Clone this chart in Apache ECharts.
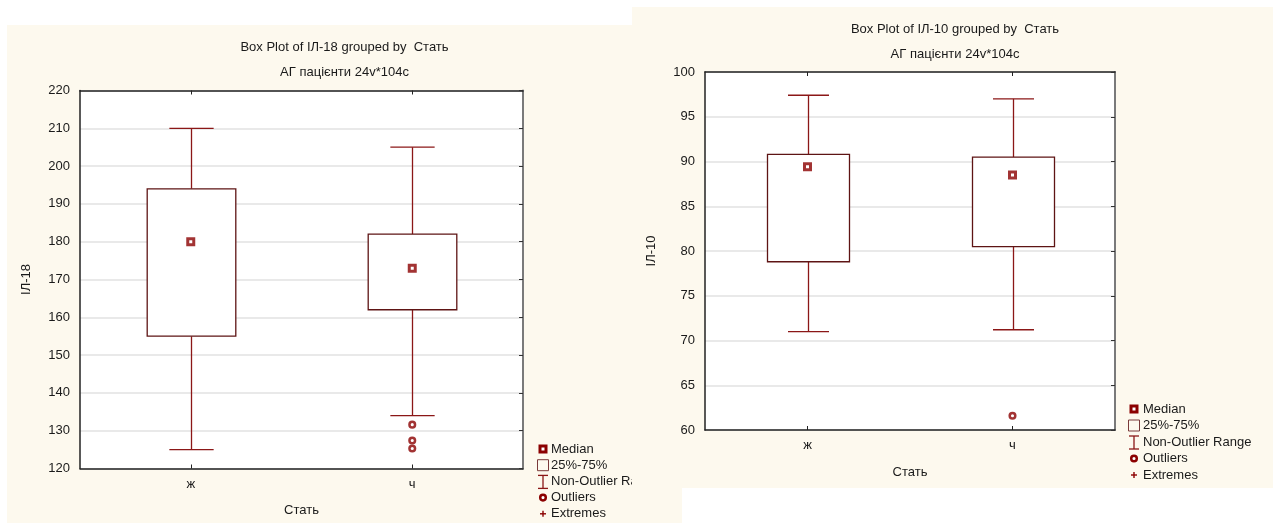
<!DOCTYPE html>
<html>
<head>
<meta charset="utf-8">
<script src="https://cdn.jsdelivr.net/npm/echarts@6/dist/echarts.min.js"></script>
<style>
  html, body { margin: 0; padding: 0; background: #ffffff; width: 1279px; height: 523px; overflow: hidden; }
  .panel { position: absolute; background: #fdf9ee; }
  #il18 { left: 7px; top: 25px; width: 675px; height: 498px; }
  #il10 { left: 632px; top: 7px; width: 641px; height: 481px; }
</style>
</head>
<body>
<div id="il18" class="panel"></div>
<div id="il10" class="panel"></div>
<script>
// Grouping variable
const groups = ['ж', 'ч'];

// ІЛ-18 by group: non-outlier min, 25%, median, 75%, non-outlier max
const il18Low = [125, 134];
const il18Q1 = [155, 162];
const il18Median = [180, 173];
const il18Q3 = [194, 182];
const il18High = [210, 205];
const il18OutlierGroup = ['ч', 'ч', 'ч'];
const il18OutlierValue = [131.6, 127.4, 125.3];
const il18Range = [120, 220, 10];

// ІЛ-10 by group
const il10Low = [71.0, 71.2];
const il10Q1 = [78.8, 80.5];
const il10Median = [89.4, 88.5];
const il10Q3 = [90.8, 90.5];
const il10High = [97.4, 97.0];
const il10OutlierGroup = ['ч'];
const il10OutlierValue = [61.6];
const il10Range = [60, 100, 5];

const legendItems = ['Median', '25%-75%', 'Non-Outlier Range', 'Outliers', 'Extremes'];

const FONT = '"Liberation Sans", Arial, sans-serif';
const RED = '#8b0000';
const BOX = '#5e1414';
const WHISKER = '#8b1717';
const TEXT = '#1a1a1a';

function renderBox(params, api) {
  const x = api.value(0);
  const low = api.coord([x, api.value(1)]);
  const q1 = api.coord([x, api.value(2)]);
  const q3 = api.coord([x, api.value(4)]);
  const high = api.coord([x, api.value(5)]);
  const band = api.size([1, 0])[0];
  const bw = band * 0.4;
  const cw = band * 0.2;
  const cx = Math.round(low[0]) + 0.5;
  const lineStyle = { stroke: WHISKER, lineWidth: 1.3 };
  return {
    type: 'group',
    children: [
      { type: 'line', shape: { x1: cx, y1: high[1], x2: cx, y2: q3[1] }, style: lineStyle },
      { type: 'line', shape: { x1: cx, y1: q1[1], x2: cx, y2: low[1] }, style: lineStyle },
      { type: 'line', shape: { x1: cx - cw / 2, y1: high[1], x2: cx + cw / 2, y2: high[1] }, style: lineStyle },
      { type: 'line', shape: { x1: cx - cw / 2, y1: low[1], x2: cx + cw / 2, y2: low[1] }, style: lineStyle },
      { type: 'rect', shape: { x: cx - bw / 2, y: q3[1], width: bw, height: q1[1] - q3[1] },
        style: { fill: '#ffffff', stroke: BOX, lineWidth: 1.3 } }
    ]
  };
}

function legendGraphics(mx, tx, y0, step) {
  const els = [];
  legendItems.forEach(function (label, i) {
    const y = y0 + i * step;
    if (i === 0) {
      els.push({ type: 'rect', shape: { x: mx - 3, y: y - 3, width: 6, height: 6 },
        style: { fill: '#ffffff', stroke: RED, lineWidth: 3 } });
    } else if (i === 1) {
      els.push({ type: 'rect', shape: { x: mx - 5.5, y: y - 5.5, width: 11, height: 11 },
        style: { fill: 'none', stroke: '#7a3a3a', lineWidth: 1 } });
    } else if (i === 2) {
      els.push({ type: 'polyline', shape: { points: [[mx - 5, y - 6], [mx + 5, y - 6]] }, style: { stroke: WHISKER, lineWidth: 1.3 } });
      els.push({ type: 'polyline', shape: { points: [[mx, y - 6], [mx, y + 7]] }, style: { stroke: WHISKER, lineWidth: 1.3 } });
      els.push({ type: 'polyline', shape: { points: [[mx - 5, y + 7], [mx + 5, y + 7]] }, style: { stroke: WHISKER, lineWidth: 1.3 } });
    } else if (i === 3) {
      els.push({ type: 'circle', shape: { cx: mx, cy: y, r: 2.8 },
        style: { fill: '#ffffff', stroke: RED, lineWidth: 2.5 } });
    } else {
      els.push({ type: 'polyline', shape: { points: [[mx - 3, y], [mx + 3, y]] }, style: { stroke: RED, lineWidth: 1.4 } });
      els.push({ type: 'polyline', shape: { points: [[mx, y - 3], [mx, y + 3]] }, style: { stroke: RED, lineWidth: 1.4 } });
    }
    els.push({ type: 'text', x: tx, y: y,
      style: { text: label, fill: TEXT, font: '13px ' + FONT, textVerticalAlign: 'middle', textAlign: 'left' } });
  });
  return els;
}

function buildOption(cfg) {
  const boxData = groups.map(function (g, i) {
    return [i, cfg.low[i], cfg.q1[i], cfg.median[i], cfg.q3[i], cfg.high[i]];
  });
  const medianData = groups.map(function (g, i) { return [g, cfg.median[i]]; });
  const outlierData = cfg.outGroup.map(function (g, i) { return [g, cfg.outValue[i]]; });
  const yBase = {
    type: 'value', min: cfg.range[0], max: cfg.range[1], interval: cfg.range[2]
  };
  return {
    animation: false,
    backgroundColor: 'transparent',
    grid: { left: cfg.grid[0], top: cfg.grid[1], width: cfg.grid[2], height: cfg.grid[3],
      show: true, backgroundColor: '#ffffff', borderWidth: 0 },
    graphic: [
      { type: 'text', x: cfg.titleX, y: cfg.titleY[0],
        style: { text: cfg.title, fill: TEXT, font: '13px ' + FONT, textAlign: 'center', textVerticalAlign: 'middle' } },
      { type: 'text', x: cfg.titleX, y: cfg.titleY[1],
        style: { text: 'АГ пацієнти 24v*104c', fill: TEXT, font: '13px ' + FONT, textAlign: 'center', textVerticalAlign: 'middle' } }
    ].concat(legendGraphics(cfg.legend[0], cfg.legend[1], cfg.legend[2], cfg.legend[3])),
    xAxis: [
      { type: 'category', data: groups, position: 'bottom', boundaryGap: true,
        name: 'Стать', nameLocation: 'middle', nameGap: cfg.xNameGap,
        nameTextStyle: { color: TEXT, fontSize: 13, fontFamily: FONT },
        axisLine: { show: true, lineStyle: { color: '#222', width: 1.5 } },
        axisTick: { show: true, inside: true, length: 4, alignWithLabel: true, lineStyle: { color: '#222' } },
        axisLabel: { color: TEXT, fontSize: 13, fontFamily: FONT, margin: cfg.xLabelMargin },
        splitLine: { show: false } },
      { type: 'category', data: groups, position: 'top', boundaryGap: true,
        axisLine: { show: true, lineStyle: { color: '#222', width: 1.5 } },
        axisTick: { show: true, inside: true, length: 4, alignWithLabel: true, lineStyle: { color: '#222' } },
        axisLabel: { show: false }, splitLine: { show: false } }
    ],
    yAxis: [
      Object.assign({}, yBase, {
        position: 'left', name: cfg.yName, nameLocation: 'middle', nameRotate: 90, nameGap: cfg.yNameGap,
        nameTextStyle: { color: TEXT, fontSize: 13, fontFamily: FONT },
        axisLine: { show: true, lineStyle: { color: '#222', width: 1.5 } },
        axisTick: { show: false },
        axisLabel: { color: TEXT, fontSize: 13, fontFamily: FONT, margin: 10 },
        splitLine: { show: true, lineStyle: { color: '#e2e2e2', width: 1.5 } }
      }),
      Object.assign({}, yBase, {
        position: 'right',
        axisLine: { show: true, lineStyle: { color: '#7a7a7a', width: 2 } },
        axisTick: { show: true, inside: true, length: 4, lineStyle: { color: '#333' } },
        axisLabel: { show: false }, splitLine: { show: false }
      })
    ],
    series: [
      { type: 'custom', xAxisIndex: 0, yAxisIndex: 0, renderItem: renderBox,
        encode: { x: 0, y: [1, 2, 3, 4, 5] }, data: boxData, z: 2 },
      { type: 'scatter', xAxisIndex: 0, yAxisIndex: 0, data: medianData, symbol: 'rect', symbolSize: 6,
        itemStyle: { color: '#ffffff', borderColor: RED, borderWidth: 3 }, z: 3 },
      { type: 'scatter', xAxisIndex: 0, yAxisIndex: 0, data: outlierData, symbol: 'circle', symbolSize: 5.6,
        itemStyle: { color: '#ffffff', borderColor: RED, borderWidth: 2.5 }, z: 3 }
    ]
  };
}

const chartL = echarts.init(document.getElementById('il18'), null, { renderer: 'canvas' });
chartL.setOption(buildOption({
  low: il18Low, q1: il18Q1, median: il18Median, q3: il18Q3, high: il18High,
  outGroup: il18OutlierGroup, outValue: il18OutlierValue, range: il18Range,
  grid: [73, 65.5, 443, 378], title: 'Box Plot of ІЛ-18 grouped by  Стать',
  titleX: 337.5, titleY: [22, 47.5], yName: 'ІЛ-18', yNameGap: 47,
  xNameGap: 35, xLabelMargin: 9, legend: [536, 544, 424, 16.2]
}));

const chartR = echarts.init(document.getElementById('il10'), null, { renderer: 'canvas' });
chartR.setOption(buildOption({
  low: il10Low, q1: il10Q1, median: il10Median, q3: il10Q3, high: il10High,
  outGroup: il10OutlierGroup, outValue: il10OutlierValue, range: il10Range,
  grid: [73, 65, 410, 358], title: 'Box Plot of ІЛ-10 grouped by  Стать',
  titleX: 323, titleY: [22, 47], yName: 'ІЛ-10', yNameGap: 47,
  xNameGap: 36, xLabelMargin: 9, legend: [502, 511, 402, 16.5]
}));
</script>
</body>
</html>
